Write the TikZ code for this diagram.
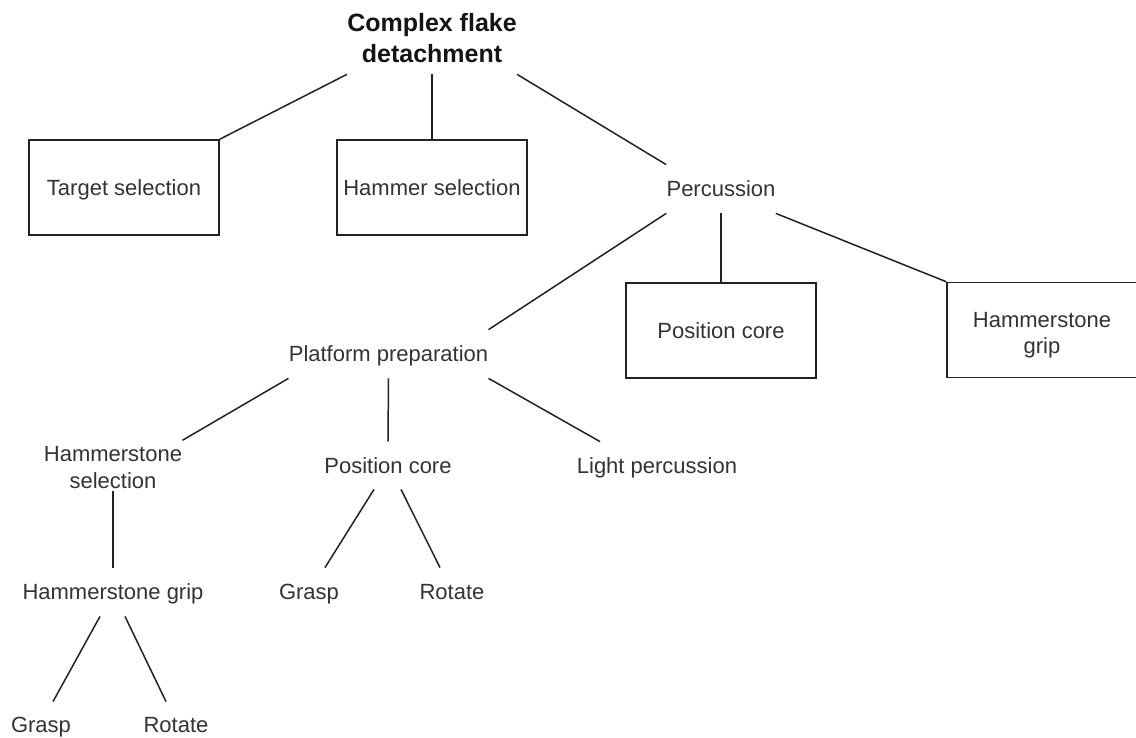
\documentclass[tikz,border=0pt]{standalone}
\usepackage{fontspec}
\setmainfont{Liberation Sans}
\definecolor{txt}{HTML}{333333}
\definecolor{ln}{HTML}{222222}
\newcommand{\mystrut}{\rule[-2.5pt]{0pt}{12.8pt}}
\newcommand{\mytallstrut}{\rule[-2.5pt]{0pt}{15.8pt}}
\begin{document}
\begin{tikzpicture}[x=0.5pt,y=-0.5pt,
  lbl/.style={inner sep=0pt, text=txt, font=\fontsize{11}{13.5}\selectfont, align=center},
  box/.style={draw=ln, line width=0.75pt, minimum width=95pt, minimum height=47.5pt, inner sep=0pt, text=txt, font=\fontsize{11}{13}\selectfont, align=center},
  conn/.style={draw=ln, line width=0.75pt}]
\useasboundingbox (0,0) rectangle (1136,738);
\fill[white] (0,0) rectangle (1136,738);

\node[inner sep=0pt, align=center, font=\bfseries\fontsize{12.5}{15.5}\selectfont, text=black!92, minimum width=67.5pt, minimum height=36pt] (root) at (432,38) {Complex flake\\detachment};

\node[box] (ts) at (124,187.5) {\mystrut Target selection};
\node[box] (hsel) at (432,187.5) {\mystrut Hammer selection};
\node[lbl, minimum width=51pt, minimum height=24pt] (perc) at (721,189) {\mystrut Percussion};

\node[box] (pcb) at (721,330.5) {\mystrut Position core};
\node[box] (hgb) at (1042,330) {\mytallstrut Hammerstone\\grip\mystrut};

\node[lbl, minimum width=58.5pt, minimum height=24pt] (pp) at (388.5,354) {\mystrut Platform preparation};

\node[lbl, minimum width=60pt, minimum height=24pt] (hs2) at (113,467) {\mystrut Hammerstone\\selection\mystrut};
\node[lbl, minimum height=23.5pt] (pcm) at (388,465.5) {\mystrut Position core};
\node[lbl, minimum height=23.5pt] (lp) at (657,465.5) {\mystrut Light percussion};

\node[lbl, minimum height=24pt] (hg2) at (113,592) {\mystrut Hammerstone grip};
\node[lbl, minimum height=24pt] (g2) at (309,592) {\mystrut Grasp};
\node[lbl, minimum height=24pt] (r2) at (452,592) {\mystrut Rotate};

\node[lbl, minimum height=23pt] (g1) at (41,725) {\mystrut Grasp};
\node[lbl, minimum height=23pt] (r1) at (176,725) {\mystrut Rotate};

\draw[conn] (root.south west) -- (ts.north east);
\draw[conn] (root.south) -- (hsel.north);
\draw[conn] (root.south east) -- (perc.north west);

\draw[conn] (perc.south west) -- (pp.north east);
\draw[conn] (perc.south) -- (pcb.north);
\draw[conn] (perc.south east) -- (hgb.north west);

\draw[conn] (pp.south west) -- (hs2.north east);
\draw[conn] (pp.south) -- (pcm.north);
\draw[conn] (pp.south east) -- ([xshift=-28.5pt]lp.north);

\draw[conn] ([yshift=1.5pt]hs2.south) -- (hg2.north);
\draw[conn] ([xshift=-6.5pt]hg2.south) -- ([xshift=6pt]g1.north);
\draw[conn] ([xshift=6pt]hg2.south) -- ([xshift=-5pt]r1.north);

\draw[conn] ([xshift=-7pt]pcm.south) -- ([xshift=8pt]g2.north);
\draw[conn] ([xshift=6.5pt]pcm.south) -- ([xshift=-6pt]r2.north);
\end{tikzpicture}
\end{document}
